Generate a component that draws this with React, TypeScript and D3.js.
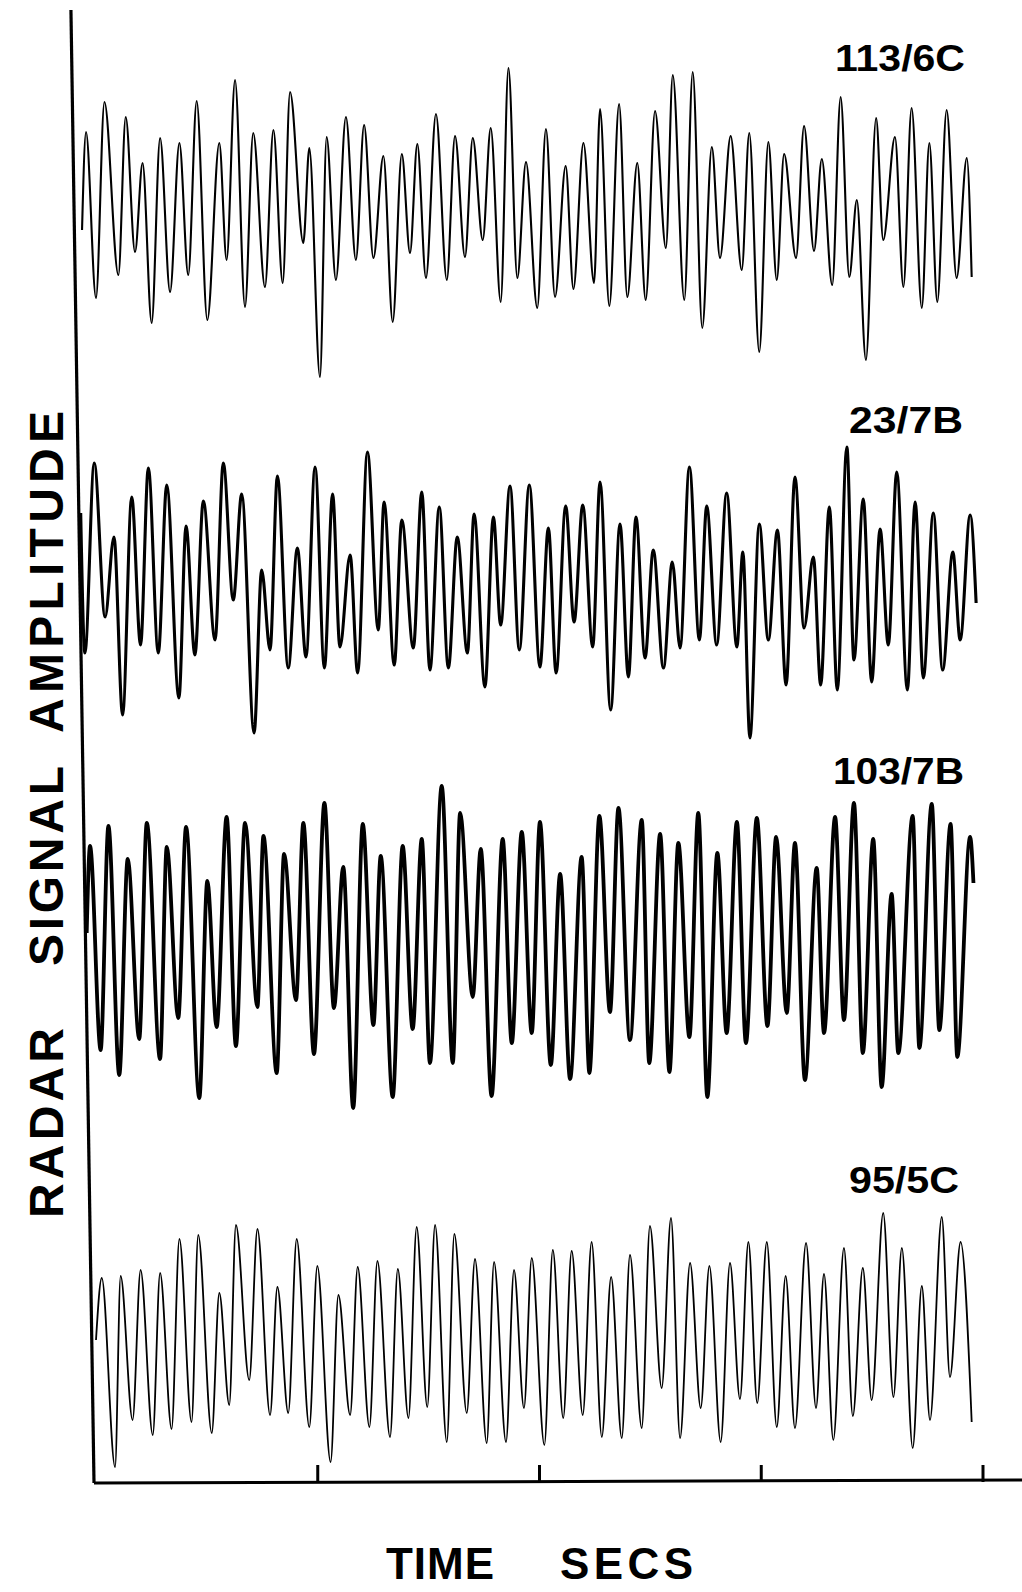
import React from 'react';
import * as d3 from 'd3';

const WIDTH = 1022;
const HEIGHT = 1592;
const FONT = '"Liberation Sans", Arial, Helvetica, sans-serif';

// turning points of each record: time (ms) and amplitude (arbitrary units)
const time113 = [-63, -45, 0, 38, 101, 134, 176, 210, 251, 289, 334, 376, 416, 454, 502, 556, 589, 627, 672, 709, 762, 800, 842, 875, 935, 962, 1010, 1040, 1082, 1127, 1172, 1209, 1251, 1296, 1338, 1379, 1416, 1449, 1488, 1533, 1582, 1619, 1664, 1699, 1744, 1780, 1825, 1860, 1900, 1939, 1990, 2029, 2070, 2118, 2153, 2198, 2246, 2273, 2315, 2359, 2396, 2441, 2479, 2521, 2570, 2601, 2653, 2691, 2734, 2777, 2814, 2862, 2912, 2946, 2991, 3032, 3070, 3103, 3157, 3193, 3238, 3273, 3320, 3358, 3397, 3431, 3472, 3518, 3550, 3603, 3641, 3678, 3724, 3758, 3794, 3836, 3881, 3927, 3949];
const amp113 = [-30, 68, -98, 98, -75, 83, -52, 37, -123, 62, -92, 57, -75, 99, -120, 57, -60, 120, -107, 67, -87, 70, -83, 108, -43, 52, -177, 63, -80, 83, -60, 75, -58, 44, -122, 46, -53, 56, -78, 86, -80, 64, -57, 62, -40, 72, -102, 132, -78, 38, -108, 71, -97, 34, -89, 57, -83, 91, -106, 96, -97, 37, -100, 89, -48, 125, -100, 128, -128, 53, -58, 64, -70, 67, -152, 58, -80, 46, -58, 74, -51, 41, -85, 103, -77, 0, -160, 82, -40, 63, -87, 92, -108, 57, -102, 90, -78, 42, -77];

const time23 = [-69, -50, -8, 41, 81, 120, 161, 201, 236, 281, 319, 374, 406, 446, 484, 537, 574, 619, 657, 713, 747, 785, 818, 867, 908, 947, 988, 1030, 1067, 1100, 1146, 1180, 1224, 1273, 1299, 1345, 1379, 1431, 1469, 1506, 1548, 1589, 1629, 1675, 1705, 1754, 1792, 1825, 1867, 1909, 1954, 2002, 2040, 2075, 2118, 2156, 2195, 2240, 2273, 2321, 2363, 2401, 2435, 2476, 2513, 2559, 2599, 2634, 2676, 2721, 2754, 2799, 2844, 2890, 2917, 2949, 2991, 3032, 3073, 3112, 3152, 3193, 3235, 3268, 3307, 3343, 3386, 3418, 3460, 3498, 3536, 3573, 3611, 3659, 3694, 3731, 3776, 3818, 3864, 3897, 3942, 3969];
const amp23 = [77, -63, 127, -27, 53, -125, 93, -55, 122, -63, 105, -108, 64, -65, 89, -50, 127, -10, 96, -143, 20, -60, 114, -78, 42, -67, 123, -78, 96, -57, 35, -83, 138, -40, 88, -75, 70, -58, 98, -80, 83, -78, 53, -63, 76, -97, 73, -35, 104, -60, 105, -77, 62, -83, 84, -32, 85, -57, 108, -120, 66, -87, 73, -68, 40, -78, 28, -58, 123, -50, 84, -55, 97, -57, 38, -148, 66, -50, 60, -95, 113, -38, 33, -95, 83, -100, 143, -70, 91, -92, 61, -55, 118, -100, 88, -88, 77, -80, 38, -50, 75, -13];

const time103 = [-42, -27, 21, 56, 105, 143, 195, 229, 289, 319, 371, 406, 466, 502, 544, 589, 631, 672, 728, 755, 815, 848, 902, 935, 983, 1030, 1073, 1115, 1160, 1203, 1251, 1284, 1338, 1383, 1428, 1469, 1506, 1559, 1609, 1642, 1699, 1735, 1784, 1834, 1875, 1920, 1965, 2002, 2051, 2093, 2138, 2190, 2225, 2270, 2318, 2356, 2408, 2461, 2495, 2544, 2586, 2626, 2676, 2716, 2757, 2802, 2844, 2890, 2931, 2980, 3028, 3067, 3115, 3152, 3197, 3250, 3283, 3333, 3373, 3418, 3458, 3505, 3543, 3588, 3618, 3683, 3713, 3769, 3803, 3854, 3884, 3942, 3957];
const amp103 = [17, 104, -100, 124, -125, 91, -89, 127, -109, 103, -68, 123, -148, 69, -77, 133, -96, 127, -57, 114, -123, 96, -50, 127, -104, 147, -58, 83, -158, 126, -75, 94, -147, 104, -79, 111, -113, 164, -113, 137, -47, 101, -146, 111, -93, 118, -83, 128, -115, 76, -129, 93, -123, 134, -62, 142, -90, 130, -113, 116, -122, 107, -87, 137, -147, 97, -83, 128, -93, 132, -76, 113, -63, 107, -130, 82, -83, 133, -70, 147, -103, 111, -137, 56, -103, 134, -98, 146, -80, 126, -107, 113, 67];

const time95 = [0, 26, 86, 111, 165, 201, 256, 289, 341, 376, 431, 461, 522, 556, 601, 631, 691, 728, 785, 818, 867, 905, 962, 998, 1058, 1093, 1146, 1180, 1233, 1269, 1326, 1361, 1409, 1446, 1494, 1529, 1582, 1616, 1672, 1709, 1762, 1795, 1849, 1885, 1930, 1965, 2022, 2060, 2107, 2145, 2195, 2235, 2281, 2323, 2371, 2408, 2461, 2498, 2551, 2593, 2634, 2679, 2727, 2766, 2817, 2859, 2904, 2942, 2982, 3025, 3070, 3110, 3152, 3202, 3247, 3283, 3325, 3373, 3413, 3458, 3498, 3550, 3596, 3634, 3683, 3724, 3761, 3814, 3851, 3899, 3949];
const amp95 = [0, 62, -127, 64, -80, 70, -95, 67, -89, 101, -82, 105, -93, 47, -65, 115, -40, 111, -75, 53, -73, 101, -87, 74, -122, 45, -75, 73, -87, 79, -97, 71, -78, 113, -67, 115, -102, 106, -73, 81, -103, 78, -102, 70, -68, 82, -105, 90, -78, 89, -75, 98, -97, 63, -98, 85, -88, 114, -48, 122, -98, 77, -68, 74, -102, 77, -59, 98, -63, 98, -87, 64, -88, 97, -68, 66, -100, 92, -76, 72, -60, 127, -57, 92, -108, 54, -80, 123, -37, 98, -82];

const tickTimes = [1000, 2000, 3000, 4000];
const yTitleWords = ['RADAR', 'SIGNAL', 'AMPLITUDE'];
const xTitleWords = ['TIME', 'SECS'];

export default function App() {
  const x = d3.scaleLinear().domain([0, 4000]).range([96, 983]);

  const traces = [
    { name: '113/6C', t: time113, a: amp113, mid: 200, w: 2.1, lx: 835, ly: 71, len: 130 },
    { name: '23/7B', t: time23, a: amp23, mid: 590, w: 3.1, lx: 849, ly: 433, len: 114 },
    { name: '103/7B', t: time103, a: amp103, mid: 950, w: 3.8, lx: 833, ly: 784, len: 131 },
    { name: '95/5C', t: time95, a: amp95, mid: 1340, w: 1.8, lx: 849, ly: 1193, len: 110 },
  ];

  // y title: each word placed separately, bottom to top
  const yWordPos = [
    { start: 1218, len: 190 },
    { start: 966, len: 200 },
    { start: 733, len: 322 },
  ];
  const xWordPos = [
    { start: 386, len: 108 },
    { start: 560, len: 133 },
  ];

  return (
    <svg width={WIDTH} height={HEIGHT} style={{ position: 'absolute', left: 0, top: 0, background: '#fff' }}>
      <rect width={WIDTH} height={HEIGHT} fill="#fff" />

      {/* axes: the vertical one leans a little, as on the record */}
      <line x1={x(-113)} y1={10} x2={x(-9)} y2={1483} stroke="#000" strokeWidth={3.2} />
      <line x1={x(-9)} y1={1483} x2={WIDTH} y2={1480} stroke="#000" strokeWidth={3} />
      {tickTimes.map(t => (
        <line key={t} x1={x(t)} x2={x(t)} y1={1482} y2={1465} stroke="#000" strokeWidth={3} />
      ))}

      {traces.map(tr => {
        const y = d3.scaleLinear().domain([-200, 200]).range([tr.mid + 200, tr.mid - 200]);
        const pts = d3.zip(tr.t, tr.a) as [number, number][];
        const line = d3.line<[number, number]>()
          .x(d => x(d[0]))
          .y(d => y(d[1]))
          .curve(d3.curveMonotoneX);
        return (
          <g key={tr.name}>
            <path d={line(pts) || ''} fill="none" stroke="#000" strokeWidth={tr.w} strokeLinejoin="round" />
            <text x={tr.lx} y={tr.ly} fontFamily={FONT} fontWeight="bold" fontSize={37}
              textLength={tr.len} lengthAdjust="spacingAndGlyphs" fill="#000">{tr.name}</text>
          </g>
        );
      })}

      {yTitleWords.map((w, i) => (
        <text key={w} transform={`translate(63, ${yWordPos[i].start}) rotate(-90)`}
          fontFamily={FONT} fontWeight="bold" fontSize={48}
          textLength={yWordPos[i].len} lengthAdjust="spacing" fill="#000">{w}</text>
      ))}

      {xTitleWords.map((w, i) => (
        <text key={w} x={xWordPos[i].start} y={1579}
          fontFamily={FONT} fontWeight="bold" fontSize={44}
          textLength={xWordPos[i].len} lengthAdjust="spacing" fill="#000">{w}</text>
      ))}
    </svg>
  );
}
